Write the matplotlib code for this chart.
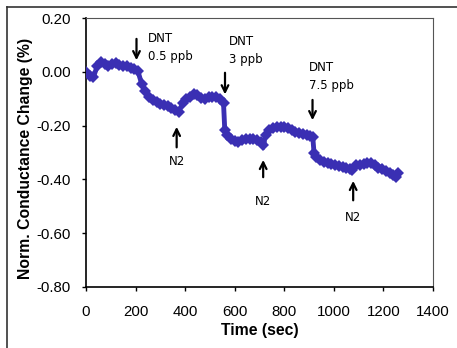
import numpy as np
import matplotlib.pyplot as plt
from matplotlib.lines import Line2D

# time (sec) and normalized conductance change (%)
time_s = [0, 15, 30, 45, 60, 75, 90, 105, 120, 135, 150, 165, 180, 195, 210,
          225, 240, 255, 270, 285, 300, 315, 330, 345, 360, 375,
          390, 405, 420, 435, 450, 465, 480, 495, 510, 525, 540, 555,
          560, 570, 585, 600, 615, 630, 645, 660, 675, 690, 705, 715,
          725, 740, 755, 770, 785, 800, 815, 830, 845, 860, 875, 890, 905, 915,
          920, 930, 945, 960, 975, 990, 1005, 1020, 1035, 1050, 1065, 1075,
          1090, 1105, 1120, 1135, 1150, 1165, 1180, 1195, 1210, 1225, 1240, 1250, 1260]
cond = [0.000, -0.015, -0.020, 0.020, 0.038, 0.030, 0.022, 0.030, 0.032, 0.025, 0.022, 0.020, 0.015, 0.010, 0.002,
        -0.045, -0.072, -0.092, -0.105, -0.112, -0.118, -0.122, -0.128, -0.133, -0.140, -0.150,
        -0.115, -0.100, -0.093, -0.083, -0.085, -0.097, -0.100, -0.095, -0.092, -0.095, -0.102, -0.115,
        -0.215, -0.235, -0.248, -0.258, -0.260, -0.255, -0.250, -0.248, -0.250, -0.253, -0.262, -0.272,
        -0.235, -0.218, -0.210, -0.205, -0.206, -0.205, -0.207, -0.215, -0.222, -0.228, -0.232, -0.235, -0.238, -0.242,
        -0.300, -0.318, -0.328, -0.334, -0.338, -0.342, -0.347, -0.350, -0.353, -0.358, -0.363, -0.366,
        -0.348, -0.345, -0.342, -0.340, -0.340, -0.348, -0.356, -0.362, -0.370, -0.377, -0.385, -0.390, -0.375]

x_ticks = [0, 200, 400, 600, 800, 1000, 1200, 1400]
y_ticks = [-0.8, -0.6, -0.4, -0.2, 0.0, 0.2]
y_tick_labels = ['-0.80', '-0.60', '-0.40', '-0.20', '0.00', '0.20']

# annotations
dnt_labels = ["DNT\n0.5 ppb", "DNT\n3 ppb", "DNT\n7.5 ppb"]
dnt_x = [204, 561, 914]
dnt_tail = [0.133, 0.007, -0.094]
dnt_tip = [0.033, -0.094, -0.19]
dnt_text_x = [249, 577, 901]
dnt_text_y = [0.09, 0.081, -0.016]

n2_x = [366, 715, 1078]
n2_tail = [-0.291, -0.402, -0.488]
n2_tip = [-0.194, -0.317, -0.395]
n2_text_y = [-0.335, -0.483, -0.543]

plt.rcParams['font.family'] = ['Liberation Sans', 'DejaVu Sans']

fig = plt.figure(figsize=(4.57, 3.48), dpi=100)
ax = fig.add_axes([0.188, 0.1753, 0.7595, 0.7727])

ax.plot(time_s, cond, color='#3a2fb3', lw=3.5, marker='D', ms=6,
        markeredgewidth=0, solid_joinstyle='miter', zorder=3)

ax.set_xlim(0, 1400)
ax.set_ylim(-0.8, 0.2)
ax.set_xticks(x_ticks)
ax.set_yticks(y_ticks)
ax.set_yticklabels(y_tick_labels)
ax.tick_params(axis='both', direction='out', length=3, labelsize=10.8, width=1)
ax.tick_params(axis='x', pad=10)
ax.tick_params(axis='y', pad=8)

for s in ['left', 'bottom']:
    ax.spines[s].set_linewidth(1.2)
for s in ['top', 'right']:
    ax.spines[s].set_linewidth(0.8)
    ax.spines[s].set_color('#555555')

ax.set_xlabel('Time (sec)', fontsize=11.3, fontweight='bold', labelpad=3)
ax.set_ylabel('Norm. Conductance Change (%)', fontsize=11.3, fontweight='bold')
ax.yaxis.set_label_coords(-0.153, 0.478)

afont = dict(fontsize=8.5, family=['DejaVu Sans'])
for lab, x, y0, y1, tx, ty in zip(dnt_labels, dnt_x, dnt_tail, dnt_tip, dnt_text_x, dnt_text_y):
    ax.annotate('', xy=(x, y1), xytext=(x, y0),
                arrowprops=dict(arrowstyle='->', lw=1.6, color='black', mutation_scale=12))
    ax.text(tx, ty, lab, ha='left', va='center', linespacing=1.5, **afont)

for x, y0, y1, ty in zip(n2_x, n2_tail, n2_tip, n2_text_y):
    ax.annotate('', xy=(x, y1), xytext=(x, y0),
                arrowprops=dict(arrowstyle='->', lw=1.6, color='black', mutation_scale=12))
    ax.text(x, ty, 'N2', ha='center', va='center', **afont)

# outer frame (top and left edges visible)
fx = 7 / 457
fy = 1 - 7 / 348
fig.add_artist(Line2D([fx, 1], [fy, fy], color='#333333', lw=1.2))
fig.add_artist(Line2D([fx, fx], [0, fy], color='#333333', lw=1.2))

fig.savefig('out.png', dpi=100)
